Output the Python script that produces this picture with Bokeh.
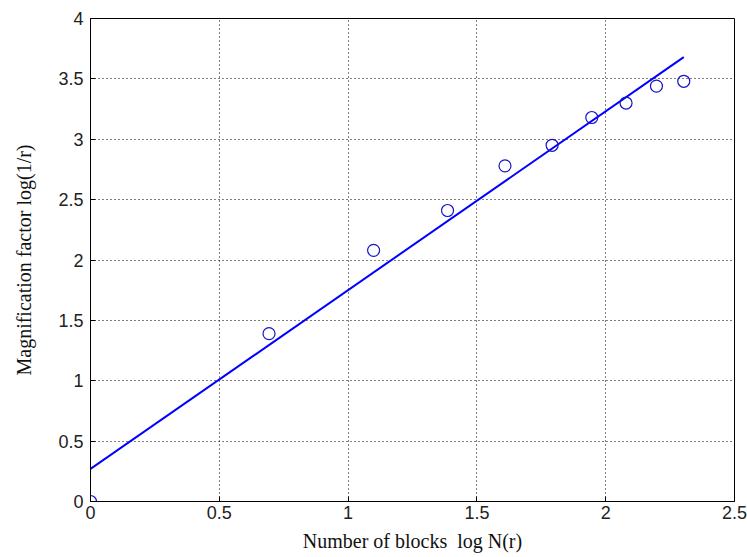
from bokeh.plotting import figure
from bokeh.models import FixedTicker, Range1d
from bokeh.embed import file_html
from bokeh.resources import INLINE

# data
x_data = [0.0, 0.693, 1.099, 1.386, 1.609, 1.792, 1.946, 2.079, 2.197, 2.303]
y_data = [0.0, 1.39, 2.08, 2.41, 2.78, 2.95, 3.18, 3.30, 3.44, 3.48]
fit_x = [0.0, 2.303]
fit_y = [0.27, 3.68]
x_ticks = [0, 0.5, 1, 1.5, 2, 2.5]
x_tick_labels = ["0", "0.5", "1", "1.5", "2", "2.5"]
y_ticks = [0, 0.5, 1, 1.5, 2, 2.5, 3, 3.5, 4]
y_tick_labels = ["0", "0.5", "1", "1.5", "2", "2.5", "3", "3.5", "4"]
x_label = "Number of blocks\u00a0 log N(r)"
y_label = "Magnification factor log(1/r)"

LINE_BLUE = "#0000ff"
MARK_BLUE = "#1414c8"
W, H = 747, 557
BL, BR, BT, BB = 90, 13, 18, 56

p = figure(width=W, height=H, output_backend="svg", toolbar_location=None,
           x_range=Range1d(0, 2.5), y_range=Range1d(0, 4),
           min_border_left=BL, min_border_right=BR, min_border_top=BT, min_border_bottom=BB)
p.outline_line_color = "black"
p.outline_line_width = 1
p.background_fill_color = "white"
p.border_fill_color = "white"

for g, ticks in ((p.xgrid, x_ticks), (p.ygrid, y_ticks)):
    g.ticker = FixedTicker(ticks=ticks)
    g.grid_line_color = "black"
    g.grid_line_dash = "1 3"
    g.grid_line_width = 1

p.xaxis.ticker = FixedTicker(ticks=x_ticks)
p.yaxis.ticker = FixedTicker(ticks=y_ticks)
p.xaxis.major_label_overrides = {t: l for t, l in zip(x_ticks, x_tick_labels)}
p.yaxis.major_label_overrides = {t: l for t, l in zip(y_ticks, y_tick_labels)}

for ax in (p.xaxis[0], p.yaxis[0]):
    ax.major_tick_in = 5
    ax.major_tick_out = 0
    ax.minor_tick_line_color = None
    ax.axis_line_color = "black"
    ax.major_tick_line_color = "black"
    ax.major_label_text_font = "Liberation Sans"
    ax.major_label_text_font_size = "18px"
    ax.major_label_text_color = "#222222"
    ax.axis_label_text_font = "Liberation Serif"
    ax.axis_label_text_font_size = "20px"
    ax.axis_label_text_font_style = "normal"
    ax.axis_label_text_color = "#111111"

p.xaxis.major_label_standoff = 4
p.yaxis.major_label_standoff = 7
p.xaxis.axis_label = x_label
p.yaxis.axis_label = y_label
p.xaxis.axis_label_standoff = 8
p.yaxis.axis_label_standoff = 20

p.line(fit_x, fit_y, line_color=LINE_BLUE, line_width=2)
p.scatter(x_data, y_data, marker="circle", size=12, fill_color=None,
          line_color=MARK_BLUE, line_width=1.2)

open("out.html", "w").write(file_html(p, INLINE))
